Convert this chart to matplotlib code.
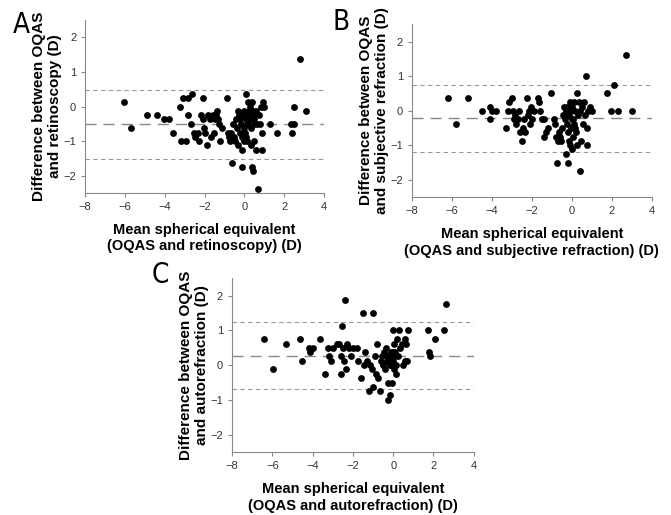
import matplotlib
matplotlib.use("Agg")
import matplotlib.pyplot as plt

plt.rcParams['font.family'] = ['Liberation Sans', 'DejaVu Sans']

# Panel A: OQAS vs retinoscopy
a_x = [-6.05, -5.7, -4.9, -4.4, -4.05, -3.8, -3.6, -3.25, -3.2, -3.1, -2.85, -2.95, -2.85,
       -2.7, -2.65, -2.55, -2.5, -2.35, -2.3, -2.2, -2.1, -2.05, -2.0, -2.1, -1.9, -1.85,
       -1.75, -1.7, -1.6, -1.55, -1.5, -1.45, -1.4, -1.35, -1.3, -1.25, -1.15, -0.9, -0.85,
       -0.8, -0.75, -0.7, -0.65, -0.6, -0.55, -0.5, -0.45, -0.4, -0.35, -0.3, -0.25, -0.2,
       -0.15, -0.1, -0.1, -0.05, 0.0, 0.0, 0.0, 0.05, 0.1, 0.1, 0.1, 0.15, 0.15, 0.2, 0.2,
       0.25, 0.3, 0.3, 0.35, 0.35, 0.4, 0.4, 0.45, 0.45, 0.5, 0.5, 0.55, 0.6, 0.6, 0.65,
       0.7, 0.75, 0.8, 0.85, 0.9, 0.9, 0.95, 1.0, 1.3, 1.65, 2.35, 2.4, 2.5, 2.5, 2.8, 3.1,
       -0.1, 0.2, 0.3, 0.45, 0.5, -0.2, 0.25]
a_y = [0.12, -0.62, -0.25, -0.25, -0.37, -0.37, -0.75, 0.0, -1.0, 0.25, 0.25, -1.0, -0.25,
       -0.5, 0.37, -0.75, -0.87, -0.75, -1.0, -0.25, -0.37, -0.62, -0.75, 0.25, -1.12, -0.25,
       -0.37, -0.87, -0.25, -0.75, -0.37, -0.25, -0.12, -0.37, -0.5, -1.0, -0.62, 0.25, -0.75,
       -0.87, -1.0, -0.75, -1.62, -0.5, -0.87, -1.0, -0.37, -0.62, -1.12, -0.12, -0.25, -0.75,
       -0.5, -0.87, -1.25, -0.25, -0.12, -0.62, -1.0, -0.75, 0.37, -0.37, -0.87, -0.5, -1.0,
       0.12, -0.25, -0.12, -0.37, 0.0, -0.62, -1.12, 0.12, -1.75, -0.12, -1.87, -0.37, -1.0,
       -0.25, -0.12, -1.25, -0.5, -2.37, -0.25, -0.5, 0.0, -1.25, -0.75, 0.12, 0.0, -0.5,
       -0.75, -0.5, -0.75, -0.5, 0.0, 1.37, -0.12, -1.75, -0.5, -0.25, -0.37, -0.5, -0.37,
       -0.25]
a_lines = [0.47, -0.5, -1.5]

# Panel B: OQAS vs subjective refraction
b_x = [-6.2, -5.8, -5.2, -4.5, -4.1, -4.1, -4.0, -3.8, -3.3, -3.2, -3.15, -3.0, -2.95, -2.9,
       -2.85, -2.8, -2.7, -2.65, -2.6, -2.5, -2.45, -2.4, -2.35, -2.25, -2.2, -2.15, -2.1,
       -2.05, -2.0, -1.9, -1.7, -1.65, -1.6, -1.5, -1.4, -1.4, -1.3, -1.2, -1.05, -0.9,
       -0.85, -0.8, -0.75, -0.7, -0.65, -0.6, -0.55, -0.5, -0.45, -0.4, -0.35, -0.3, -0.3,
       -0.25, -0.2, -0.2, -0.15, -0.15, -0.1, -0.1, -0.05, 0.0, 0.0, 0.0, 0.05, 0.1, 0.1,
       0.15, 0.2, 0.25, 0.25, 0.3, 0.35, 0.4, 0.4, 0.45, 0.5, 0.55, 0.6, 0.65, 0.7, 0.75,
       0.75, 0.8, 0.9, 1.0, 1.75, 1.95, 2.1, 2.3, 2.7, 3.0, -0.25, -0.1, 0.05, 0.15, -0.35]
b_y = [0.37, -0.37, 0.37, 0.0, 0.12, -0.25, 0.0, 0.0, -0.5, 0.0, 0.25, 0.37, 0.0, -0.25,
       -0.12, -0.37, -0.25, 0.0, -0.62, -0.87, -0.5, -0.25, -0.62, 0.37, -0.12, 0.0, -0.37,
       0.12, -0.25, 0.0, 0.37, 0.25, 0.0, -0.25, -0.25, -0.75, -0.62, -0.5, 0.5, -0.25,
       -0.37, -0.75, -1.5, -0.87, -0.62, -0.75, -0.87, -0.5, -0.12, 0.12, -0.25, 0.0, -1.25,
       -0.37, -0.62, -1.5, -0.12, -0.87, 0.25, -1.0, -0.5, 0.12, -0.25, -1.12, -0.75, -0.37,
       0.25, 0.0, -0.62, 0.5, -1.0, -0.12, 0.25, -1.75, 0.0, -0.87, 0.12, -0.37, 0.25, -0.12,
       1.0, -0.5, -1.0, 0.0, 0.12, 0.0, 0.5, 0.0, 0.75, 0.0, 1.62, 0.0, 0.12, 0.0, -0.25,
       -0.5, -0.12]
b_lines = [0.75, -0.21, -1.19]

# Panel C: OQAS vs autorefraction
c_x = [-6.4, -5.95, -5.35, -4.65, -4.55, -4.2, -4.15, -4.0, -3.65, -3.4, -3.25, -3.2, -3.1,
       -3.0, -2.8, -2.7, -2.6, -2.6, -2.55, -2.5, -2.45, -2.4, -2.35, -2.3, -2.2, -2.1, -2.0,
       -1.8, -1.75, -1.6, -1.5, -1.45, -1.4, -1.3, -1.2, -1.15, -1.0, -1.05, -1.0, -0.9,
       -0.85, -0.8, -0.75, -0.65, -0.6, -0.55, -0.5, -0.45, -0.4, -0.35, -0.3, -0.25, -0.25,
       -0.2, -0.15, -0.15, -0.1, -0.05, -0.05, 0.0, 0.0, 0.05, 0.05, 0.1, 0.15, 0.15, 0.2,
       0.25, 0.3, 0.35, 0.45, 0.5, 0.6, 0.6, 0.65, 0.7, 0.75, 1.75, 1.8, 1.85, 2.1, 2.5, 2.6,
       -0.2, -0.1, 0.1, -0.3, 0.0]
c_y = [0.75, -0.12, 0.62, 0.75, 0.12, 0.5, 0.37, 0.5, 0.75, -0.25, 0.5, 0.25, 0.12, 0.5,
       0.62, 0.62, 0.25, -0.25, 1.12, 0.5, 0.12, 1.87, -0.12, 0.62, 0.5, 0.25, 0.5, 0.5,
       0.12, -0.37, 1.5, 0.0, 0.37, 0.12, -0.75, 0.0, 1.5, -0.12, -0.62, 0.25, -0.25, 0.62,
       -0.37, -0.75, 0.12, 0.25, 0.0, 0.37, -0.12, 0.5, 0.25, -1.0, -0.5, 0.12, 0.0, -0.87,
       0.37, 0.25, -0.5, 1.0, 0.12, 0.62, -0.12, 0.37, 0.0, -0.25, 0.75, 0.25, 1.0, 0.5,
       0.62, 0.0, 0.12, 0.75, 0.62, 0.12, 1.0, 1.0, 0.37, 0.25, 0.75, 1.0, 1.75, 0.25, 0.0,
       0.25, 0.12, 0.37]
c_lines = [1.24, 0.27, -0.69]

panels = [
    ("A", a_x, a_y, a_lines, "Difference between OQAS\nand retinoscopy (D)",
     "Mean spherical equivalent\n(OQAS and retinoscopy) (D)",
     [0.127, 0.625, 0.356, 0.336], (0.019, 0.979)),
    ("B", b_x, b_y, b_lines, "Difference between OQAS\nand subjective refraction (D)",
     "Mean spherical equivalent\n(OQAS and subjective refraction) (D)",
     [0.614, 0.617, 0.357, 0.336], (0.496, 0.985)),
    ("C", c_x, c_y, c_lines, "Difference between OQAS\nand autorefraction (D)",
     "Mean spherical equivalent\n(OQAS and autorefraction) (D)",
     [0.346, 0.122, 0.360, 0.338], (0.226, 0.493)),
]

fig = plt.figure(figsize=(6.71, 5.15), dpi=100)

for letter, xs, ys, lines, ylab, xlab, rect, lpos in panels:
    ax = fig.add_axes(rect)
    ax.scatter(xs, ys, s=24, color='black', zorder=3, linewidths=0)
    ax.axhline(lines[0], color='#999999', lw=0.8, ls=(0, (4, 3)))
    ax.axhline(lines[1], color='#888888', lw=1.0, ls=(0, (8, 5)))
    ax.axhline(lines[2], color='#999999', lw=0.8, ls=(0, (4, 3)))
    ax.set_xlim(-8, 4)
    ax.set_ylim(-2.5, 2.5)
    ax.set_xticks([-8, -6, -4, -2, 0, 2, 4])
    ax.set_yticks([-2, -1, 0, 1, 2])
    for s in ['top', 'right']:
        ax.spines[s].set_visible(False)
    for s in ['left', 'bottom']:
        ax.spines[s].set_color('#888888')
        ax.spines[s].set_linewidth(0.8)
    ax.tick_params(colors='#888888', labelcolor='#333333', labelsize=8, length=3, width=0.8)
    ax.set_xlabel(xlab, fontsize=10.5, fontweight='bold', labelpad=8, linespacing=1.2)
    ax.set_ylabel(ylab, fontsize=11, fontweight='bold', labelpad=1, linespacing=1.15)
    fig.text(lpos[0], lpos[1], letter, fontsize=20, family='DejaVu Sans', fontstretch='condensed',
             va='top', ha='left')

fig.savefig("out.png", dpi=100)
